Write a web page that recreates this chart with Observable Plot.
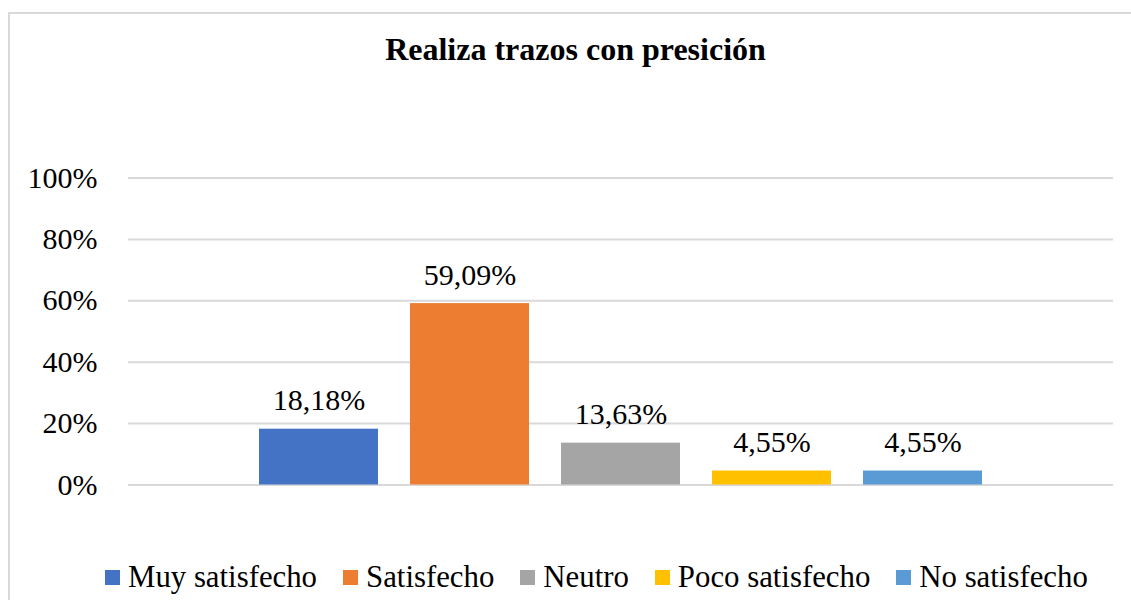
<!DOCTYPE html>
<html>
<head>
<meta charset="utf-8">
<script src="https://cdn.jsdelivr.net/npm/d3@7"></script>
<script src="https://cdn.jsdelivr.net/npm/@observablehq/plot@0.6"></script>
<style>
  html, body { margin: 0; padding: 0; background: #fff; }
  #wrap { position: relative; width: 1131px; height: 600px; overflow: hidden; font-family: "Liberation Serif", "Tinos", "DejaVu Serif", serif; color: #000; }
  #frame { position: absolute; left: 8px; top: 12px; width: 1200px; height: 700px; border: 2px solid #d9d9d9; box-sizing: border-box; }
  #title { position: absolute; left: 0; width: 1151px; top: 31px; text-align: center; font-weight: bold; font-size: 32px; line-height: 36px; }
  #chart { position: absolute; left: 0; top: 0; }
  #legend { position: absolute; left: 105px; top: 560px; display: flex; align-items: center; font-size: 30.8px; line-height: 34px; white-space: nowrap; }
  .item { display: flex; align-items: center; margin-right: 26px; }
  .sw { width: 15px; height: 15px; margin-right: 8px; }
</style>
</head>
<body>
<div id="wrap">
  <div id="frame"></div>
  <div id="chart"></div>
  <div id="title"></div>
  <div id="legend"></div>
</div>
<script>
const titleText = "Realiza trazos con presición";
const categories = ["Muy satisfecho", "Satisfecho", "Neutro", "Poco satisfecho", "No satisfecho"];
const values = [0.1818, 0.5909, 0.1363, 0.0455, 0.0455];
const labels = ["18,18%", "59,09%", "13,63%", "4,55%", "4,55%"];
const colors = ["#4472C4", "#ED7D31", "#A5A5A5", "#FFC000", "#5B9BD5"];
const yTicks = [0, 0.2, 0.4, 0.6, 0.8, 1];
const yTickLabels = ["0%", "20%", "40%", "60%", "80%", "100%"];

const serif = "'Liberation Serif', 'Tinos', 'DejaVu Serif', serif";
const data = categories.map((c, i) => ({cat: c, value: values[i], label: labels[i]}));

document.getElementById("title").textContent = titleText;

const plot = Plot.plot({
  width: 1131,
  height: 600,
  marginLeft: 128,
  marginRight: 18,
  marginTop: 177.5,
  marginBottom: 115.5,
  style: {fontFamily: serif, fontSize: "30px", color: "#000", background: "transparent", overflow: "visible"},
  x: {domain: categories, range: [258, 984], paddingInner: 0.21, paddingOuter: 0, axis: null},
  y: {domain: [0, 1], ticks: yTicks},
  color: {domain: categories, range: colors},
  marks: [
    Plot.gridY(yTicks, {stroke: "#d9d9d9", strokeOpacity: 1, strokeWidth: 2}),
    Plot.axisY(yTicks, {tickSize: 0, tickPadding: 31, tickFormat: (d) => yTickLabels[yTicks.indexOf(d)], fontSize: 30, fontFamily: serif, label: null}),
    Plot.barY(data, {x: "cat", y: "value", fill: "cat"}),
    Plot.text(data, {x: "cat", y: "value", text: "label", lineAnchor: "bottom", dy: -19, fontSize: 30, fontFamily: serif, fill: "#000"})
  ]
});
document.getElementById("chart").appendChild(plot);

const legend = document.getElementById("legend");
categories.forEach((c, i) => {
  const item = document.createElement("div");
  item.className = "item";
  const sw = document.createElement("div");
  sw.className = "sw";
  sw.style.background = colors[i];
  const t = document.createElement("span");
  t.textContent = c;
  item.appendChild(sw);
  item.appendChild(t);
  legend.appendChild(item);
});
</script>
</body>
</html>
